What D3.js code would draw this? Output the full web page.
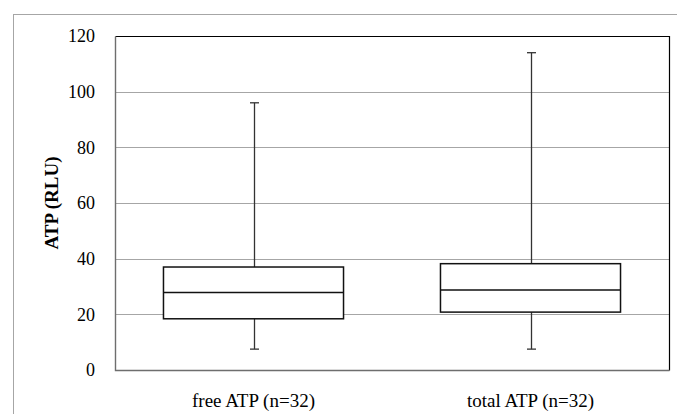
<!DOCTYPE html>
<html>
<head>
<meta charset="utf-8">
<script src="https://cdn.jsdelivr.net/npm/d3@7"></script>
<style>
  body { margin: 0; background: #fff; }
  svg { display: block; }
</style>
</head>
<body>
<div id="chart"></div>
<script>
// box plot of ATP values

var categories = ["free ATP (n=32)", "total ATP (n=32)"];
var mins    = [7.5, 7.5];
var q1s     = [18.4, 20.8];
var medians = [27.8, 28.7];
var q3s     = [37.0, 38.2];
var maxs    = [96, 114];
var yTicks  = [0, 20, 40, 60, 80, 100, 120];

var width = 677,
    height = 414;

var margin = {left: 115, top: 36, right: 8, bottom: 44};

var svg = d3.select("#chart").append("svg")
    .attr("width", width)
    .attr("height", height)
    .style("font-family", "'Liberation Serif', 'Times New Roman', serif");

// outer frame
svg.append("rect")
    .attr("x", 13.5).attr("y", 14.5)
    .attr("width", width).attr("height", height)
    .attr("fill", "none")
    .attr("stroke", "#a6a6a6")
    .attr("stroke-width", 1);

var y = d3.scaleLinear()
    .domain([0, 120])
    .range([height - margin.bottom, margin.top]);

var x = d3.scaleBand()
    .domain(categories)
    .range([margin.left, width - margin.right])
    .paddingInner(0.35)
    .paddingOuter(0.175);

// gridlines
svg.selectAll(".grid")
    .data(yTicks.filter(function(d) { return d > 0 && d < 120; }))
    .enter().append("line")
    .attr("class", "grid")
    .attr("x1", margin.left).attr("x2", width - margin.right)
    .attr("y1", function(d) { return Math.round(y(d)) + 0.5; })
    .attr("y2", function(d) { return Math.round(y(d)) + 0.5; })
    .attr("stroke", "#a6a6a6")
    .attr("stroke-width", 1.2);

// plot frame
var frameTop = Math.round(y(120)) + 0.5, frameBottom = Math.round(y(0)) + 0.5;
var frameLeft = margin.left + 0.5, frameRight = width - margin.right + 0.5;
svg.append("path")
    .attr("d", "M" + frameLeft + "," + frameTop + "H" + frameRight + "V" + frameBottom)
    .attr("fill", "none").attr("stroke", "#000").attr("stroke-width", 1.2);
svg.append("path")
    .attr("d", "M" + frameLeft + "," + frameTop + "V" + frameBottom + "H" + frameRight)
    .attr("fill", "none").attr("stroke", "#6e6e6e").attr("stroke-width", 1.4);

// tick labels
svg.selectAll(".ytick")
    .data(yTicks)
    .enter().append("text")
    .attr("class", "ytick")
    .attr("x", 95)
    .attr("y", function(d) { return y(d); })
    .attr("dy", "0.35em")
    .attr("text-anchor", "end")
    .attr("font-size", "18px")
    .attr("fill", "#000")
    .text(function(d) { return d; });

// y title
svg.append("text")
    .attr("transform", "translate(51," + y(60) + ") rotate(-90)")
    .attr("text-anchor", "middle")
    .attr("dy", "0.35em")
    .attr("font-size", "19px")
    .attr("font-weight", "bold")
    .text("ATP (RLU)");

// category labels
svg.selectAll(".xlab")
    .data(categories)
    .enter().append("text")
    .attr("class", "xlab")
    .attr("x", function(d) { return x(d) + x.bandwidth() / 2; })
    .attr("y", 400)
    .attr("dy", "0.35em")
    .attr("text-anchor", "middle")
    .attr("font-size", "19px")
    .text(function(d) { return d; });

var boxes = categories.map(function(c, i) {
  return {cat: c, min: mins[i], q1: q1s[i], med: medians[i], q3: q3s[i], max: maxs[i]};
});

var g = svg.selectAll(".box")
    .data(boxes)
    .enter().append("g")
    .attr("class", "box");

function cx(d) { return Math.round(x(d.cat) + x.bandwidth() / 2) + 0.5; }

// whiskers
g.append("line")
    .attr("x1", cx).attr("x2", cx)
    .attr("y1", function(d) { return y(d.max); })
    .attr("y2", function(d) { return y(d.q3); })
    .attr("stroke", "#333").attr("stroke-width", 1.3);
g.append("line")
    .attr("x1", cx).attr("x2", cx)
    .attr("y1", function(d) { return y(d.q1); })
    .attr("y2", function(d) { return y(d.min); })
    .attr("stroke", "#333").attr("stroke-width", 1.3);
// caps
["max", "min"].forEach(function(k) {
  g.append("line")
    .attr("x1", function(d) { return cx(d) - 4.5; })
    .attr("x2", function(d) { return cx(d) + 4.5; })
    .attr("y1", function(d) { return y(d[k]); })
    .attr("y2", function(d) { return y(d[k]); })
    .attr("stroke", "#333").attr("stroke-width", 1.3);
});

// box
g.append("rect")
    .attr("x", function(d) { return x(d.cat); })
    .attr("width", x.bandwidth())
    .attr("y", function(d) { return y(d.q3); })
    .attr("height", function(d) { return y(d.q1) - y(d.q3); })
    .attr("fill", "#fff")
    .attr("stroke", "#111").attr("stroke-width", 1.5);

g.append("line")
    .attr("x1", function(d) { return x(d.cat); })
    .attr("x2", function(d) { return x(d.cat) + x.bandwidth(); })
    .attr("y1", function(d) { return y(d.med); })
    .attr("y2", function(d) { return y(d.med); })
    .attr("stroke", "#111").attr("stroke-width", 1.5);
</script>
</body>
</html>
